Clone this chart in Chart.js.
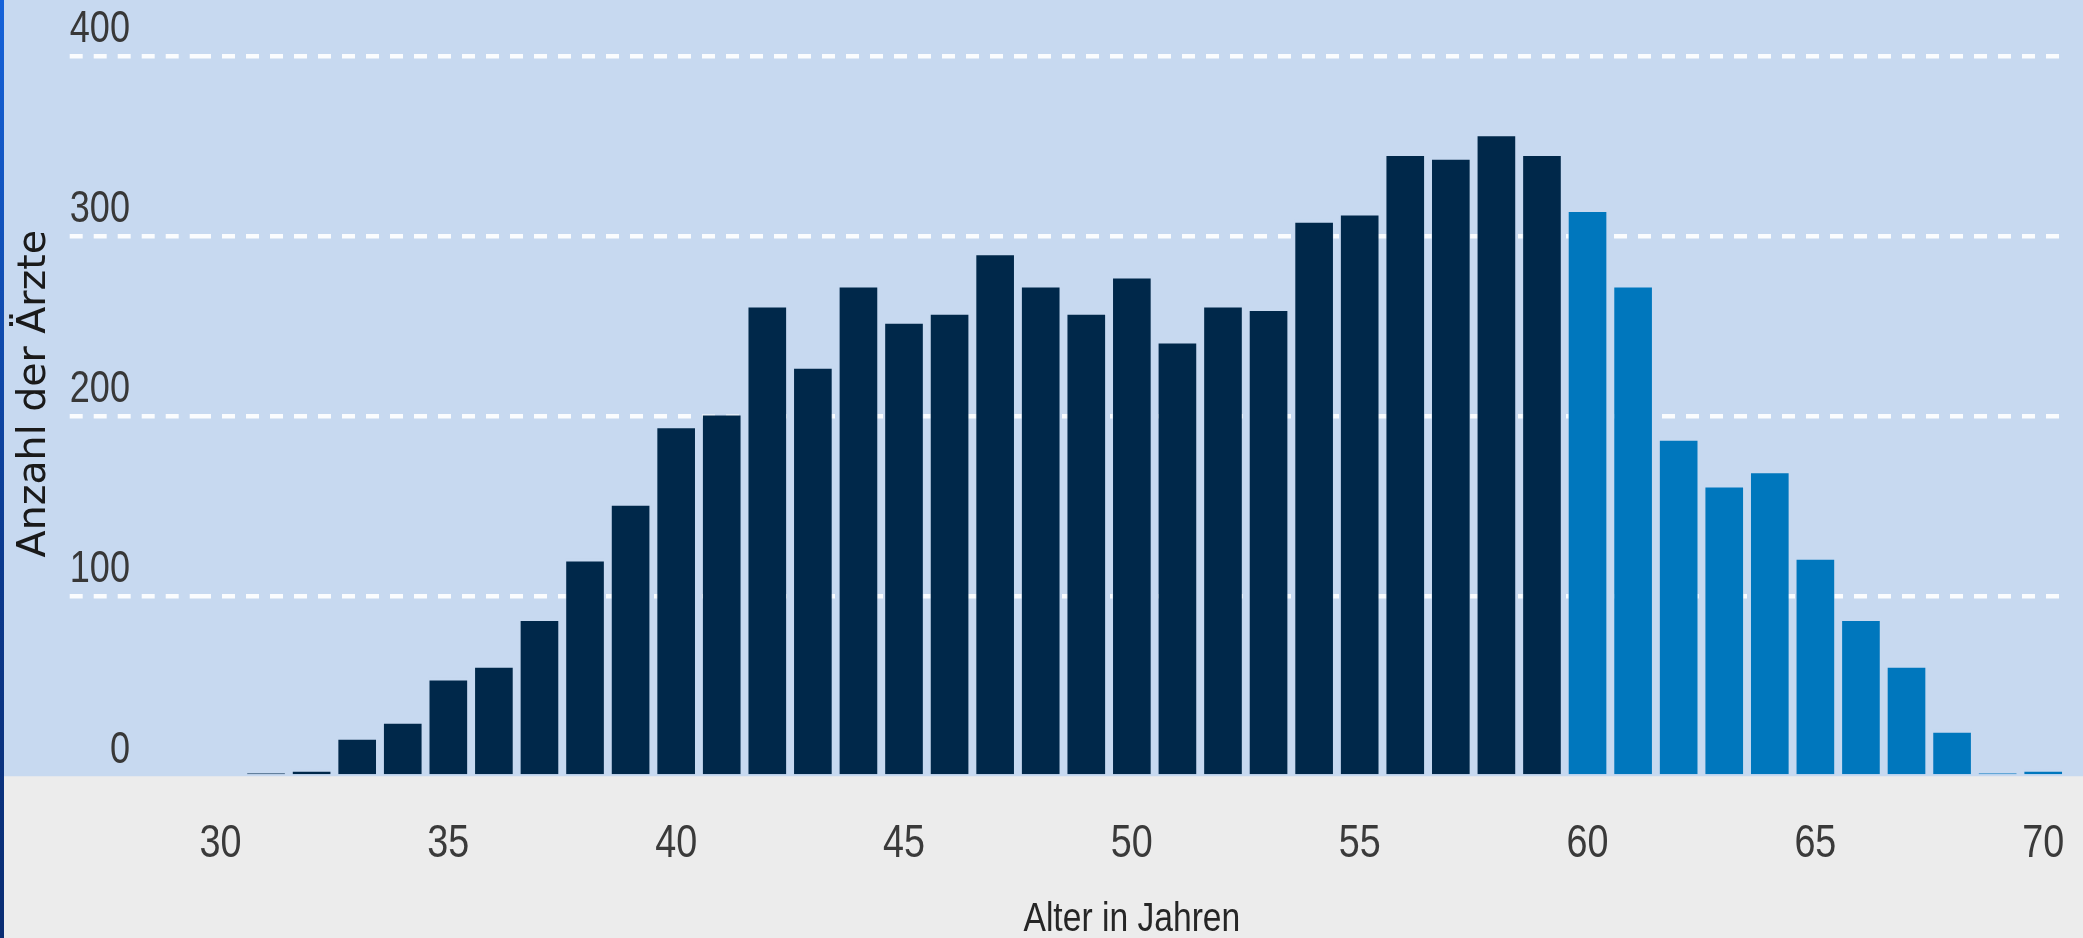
<!DOCTYPE html>
<html lang="de">
<head>
<meta charset="utf-8">
<title>Altersstruktur der Ärzte</title>
<script src="https://cdn.jsdelivr.net/npm/chart.js@4.4.1/dist/chart.umd.min.js"></script>
<style>
  html, body { margin: 0; padding: 0; background: #ececec; overflow: hidden; }
  #wrap { position: relative; width: 2083px; height: 938px; }
  #edge { position: absolute; left: 0; top: 0; width: 4px; height: 938px;
          background: linear-gradient(#1663da, #0c3a8e 60%, #0a2d73); }
  canvas { display: block; }
</style>
</head>
<body>
<div id="wrap">
  <canvas id="chart" width="2083" height="938"></canvas>
  <div id="edge"></div>
</div>
<script>
// Alter in Jahren (one bar per year)
const ages = [30, 31, 32, 33, 34, 35, 36, 37, 38, 39,
              40, 41, 42, 43, 44, 45, 46, 47, 48, 49,
              50, 51, 52, 53, 54, 55, 56, 57, 58, 59,
              60, 61, 62, 63, 64, 65, 66, 67, 68, 69, 70];

// Anzahl der Ärzte per age
const doctors = [0, 2, 4, 22, 31, 55, 62, 88, 121, 152,
                 195, 202, 262, 228, 273, 253, 258, 291, 273, 258,
                 278, 242, 262, 260, 309, 313, 346, 344, 357, 346,
                 315, 273, 188, 162, 170, 122, 88, 62, 26, 2, 4];

// labelled ages on the x axis and values on the y axis
const xTickLabels = ['30', '35', '40', '45', '50', '55', '60', '65', '70'];
const yTickValues = [0, 100, 200, 300, 400];

// ages from this year on are drawn in the lighter blue
const highlightFrom = 60;

const NAVY = '#00284a';
const BLUE = '#0077bd';
const BG_PLOT = '#c7d9f0';
const BG_AXIS = '#ececec';
const NARROW_FAMILY = 'Liberation Sans';
const NARROW = "'Liberation Sans', Arial, sans-serif";
const NARROW_FACTOR = 0.82;   // horizontal squeeze for the axis type

const barColors = ages.map(a => a >= highlightFrom ? BLUE : NAVY);
const edgeColors = ages.map(() => 'rgba(200, 218, 240, 0.45)');

// paints the light-blue plot band and the grey band below the baseline
const backdrop = {
  id: 'backdrop',
  beforeDraw(chart) {
    const { ctx, width, height, chartArea } = chart;
    ctx.save();
    ctx.fillStyle = BG_PLOT;
    ctx.fillRect(0, 0, width, chartArea.bottom);
    ctx.fillStyle = BG_AXIS;
    ctx.fillRect(0, chartArea.bottom, width, height - chartArea.bottom);
    ctx.restore();
  }
};

// draws the narrow axis type: text set in the narrow family is squeezed
// horizontally around its anchor point (alignment is preserved)
const narrowType = {
  id: 'narrowType',
  beforeDraw(chart) {
    const ctx = chart.ctx;
    if (ctx._plainFillText) return;
    const plain = ctx.fillText;
    ctx._plainFillText = plain;
    ctx.fillText = function (text, x, y, maxWidth) {
      if (this.font.indexOf(NARROW_FAMILY) === -1) {
        return plain.call(this, text, x, y, maxWidth);
      }
      this.save();
      this.translate(x, y);
      this.scale(NARROW_FACTOR, 1);
      plain.call(this, text, 0, 0);
      this.restore();
    };
  }
};

const hideZero = c => (c.tick && c.tick.value === 0) ? 'rgba(0,0,0,0)' : 'rgba(255,255,255,0.9)';

new Chart(document.getElementById('chart'), {
  type: 'bar',
  data: {
    labels: ages.map(String),
    datasets: [{
      data: doctors,
      backgroundColor: barColors,
      borderColor: edgeColors,
      borderWidth: { top: 3, left: 1, right: 1, bottom: 0 },
      borderSkipped: 'start',
      barPercentage: 0.87,
      categoryPercentage: 1.0
    }]
  },
  options: {
    responsive: false,
    animation: false,
    events: [],
    layout: { padding: { top: 10.76, right: 17, bottom: 0, left: 0 } },
    plugins: { legend: { display: false }, tooltip: { enabled: false } },
    scales: {
      x: {
        offset: true,
        grid: { display: false, drawTicks: false },
        border: { display: false },
        ticks: {
          autoSkip: false,
          maxRotation: 0,
          minRotation: 0,
          padding: 40,
          color: '#3a3a3a',
          font: { family: NARROW, size: 46 },
          callback(value) {
            const lbl = this.getLabelForValue(value);
            return xTickLabels.includes(lbl) ? lbl : '';
          }
        },
        title: {
          display: true,
          text: 'Alter in Jahren',
          color: '#262626',
          font: { family: NARROW, size: 41, lineHeight: 1 },
          padding: { top: 0, bottom: -2.5 }
        },
        afterFit(scale) {
          scale.height = 161.5;
          scale.paddingLeft = 0;
          scale.paddingRight = 0;
        }
      },
      y: {
        min: 0,
        max: 425,
        grid: {
          color: hideZero,
          tickColor: hideZero,
          lineWidth: 4.5,
          tickWidth: 4.5,
          tickLength: 128,
          drawTicks: true,
          tickBorderDash: [13, 11]
        },
        border: { display: false, dash: [13, 11] },
        afterBuildTicks(scale) {
          scale.ticks = yTickValues.map(v => ({ value: v }));
        },
        ticks: {
          includeBounds: false,
          padding: -60.3,
          labelOffset: -26,
          color: '#383838',
          font: { family: NARROW, size: 44 }
        },
        title: {
          display: true,
          text: 'Anzahl der Ärzte',
          color: '#1a1a1a',
          font: { family: "'DejaVu Sans', sans-serif", size: 39.5, lineHeight: 1 },
          padding: { top: 14.5, bottom: 0 }
        },
        afterFit(scale) {
          scale.width = 197.7;
          scale.paddingTop = 0;
          scale.paddingBottom = 0;
        }
      }
    }
  },
  plugins: [backdrop, narrowType]
});
</script>
</body>
</html>
